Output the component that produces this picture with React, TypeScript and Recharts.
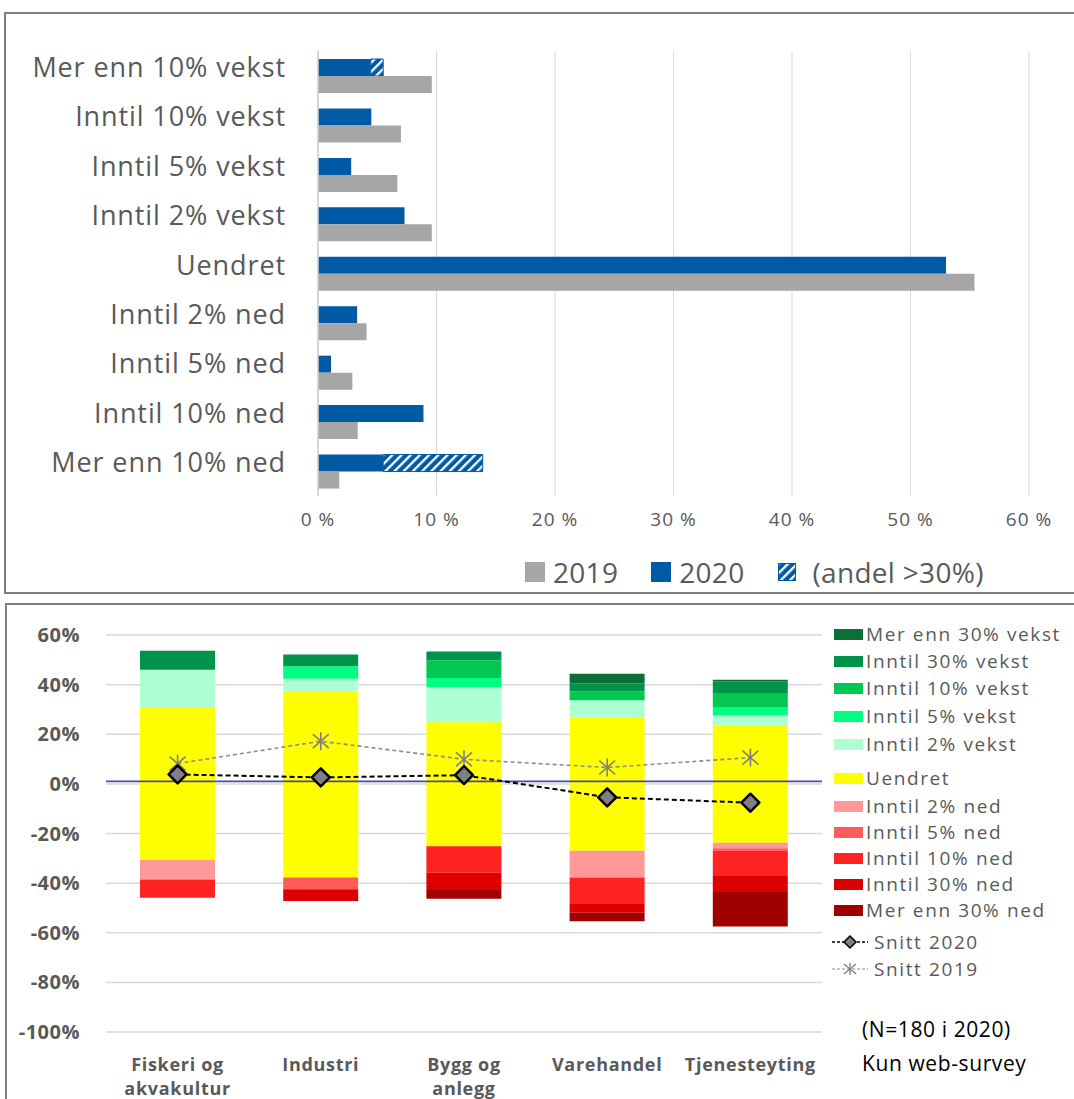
import React from 'react';
import { BarChart, Bar, XAxis, YAxis, CartesianGrid, ComposedChart, Line, ReferenceLine } from 'recharts';

const FONT = '"Open Sans", sans-serif';
const TEXT_GREY = '#595959';

// top panel: share of firms by expected change
const shiftCategories = [
  'Mer enn 10% vekst',
  'Inntil 10% vekst',
  'Inntil 5% vekst',
  'Inntil 2% vekst',
  'Uendret',
  'Inntil 2% ned',
  'Inntil 5% ned',
  'Inntil 10% ned',
  'Mer enn 10% ned',
];
const share2019 = [9.6, 7.0, 6.7, 9.6, 55.4, 4.1, 2.9, 3.35, 1.8];
const share2020 = [4.45, 4.5, 2.8, 7.3, 53.0, 3.3, 1.1, 8.9, 5.5];
const share2020Over30 = [1.05, 0, 0, 0, 0, 0, 0, 0, 8.4];
const shareTicks = [0, 10, 20, 30, 40, 50, 60];

// bottom panel: distribution per sector
const sectors = ['Fiskeri og\nakvakultur', 'Industri', 'Bygg og\nanlegg', 'Varehandel', 'Tjenesteyting'];
const uendretOver = [30.6, 37.2, 24.8, 26.6, 23.5];
const uendretUnder = [-30.7, -37.7, -25.1, -27.0, -23.7];
const vekst2 = [15.4, 5.2, 14.2, 7.1, 4.1];
const vekst5 = [0, 5.0, 3.7, 0, 3.4];
const vekst10 = [0, 0, 7.1, 3.6, 5.6];
const vekst30 = [7.7, 4.7, 3.6, 3.3, 4.8];
const vekstMer30 = [0, 0, 0, 3.8, 0.6];
const ned2 = [-7.8, 0, 0, -10.7, -2.2];
const ned5 = [0, -4.8, 0, 0, -1.1];
const ned10 = [-7.4, 0, -10.7, -10.7, -10.1];
const ned30 = [0, -4.7, -7.0, -3.5, -6.5];
const nedMer30 = [0, 0, -3.5, -3.5, -13.9];
const snitt2020 = [3.8, 2.6, 3.5, -5.4, -7.6];
const snitt2019 = [8.2, 17.2, 9.9, 6.6, 10.6];
const sectorTicks = [-100, -80, -60, -40, -20, 0, 20, 40, 60];

const topData = shiftCategories.map((name, i) => ({
  name,
  v2019: share2019[i],
  v2020: share2020[i],
  over30: share2020Over30[i],
}));

const sectorData = sectors.map((name, i) => ({
  name,
  uendretOver: uendretOver[i],
  uendretUnder: uendretUnder[i],
  vekst2: vekst2[i],
  vekst5: vekst5[i],
  vekst10: vekst10[i],
  vekst30: vekst30[i],
  vekstMer30: vekstMer30[i],
  ned2: ned2[i],
  ned5: ned5[i],
  ned10: ned10[i],
  ned30: ned30[i],
  nedMer30: nedMer30[i],
  snitt2020: snitt2020[i],
  snitt2019: snitt2019[i],
}));

const BLUE = '#005AA5';
const GREY = '#A6A6A6';

const sectorSeries = [
  { key: 'vekstMer30', label: 'Mer enn 30% vekst', color: '#0A7038' },
  { key: 'vekst30', label: 'Inntil 30% vekst', color: '#00934A' },
  { key: 'vekst10', label: 'Inntil 10% vekst', color: '#00C853' },
  { key: 'vekst5', label: 'Inntil 5% vekst', color: '#00FF80' },
  { key: 'vekst2', label: 'Inntil 2% vekst', color: '#AEFFD2' },
  { key: 'uendret', label: 'Uendret', color: '#FFFF00' },
  { key: 'ned2', label: 'Inntil 2% ned', color: '#FF9999' },
  { key: 'ned5', label: 'Inntil 5% ned', color: '#FF5A5A' },
  { key: 'ned10', label: 'Inntil 10% ned', color: '#FF2222' },
  { key: 'ned30', label: 'Inntil 30% ned', color: '#DD0000' },
  { key: 'nedMer30', label: 'Mer enn 30% ned', color: '#A00000' },
];
const colorOf = (key: string) => sectorSeries.find(s => s.key === key)!.color;

// stacking order (each sign stacks outward from zero in this order)
const stackOrder = [
  ['uendretOver', 'uendret'],
  ['uendretUnder', 'uendret'],
  ['vekst2', 'vekst2'],
  ['ned2', 'ned2'],
  ['vekst5', 'vekst5'],
  ['ned5', 'ned5'],
  ['vekst10', 'vekst10'],
  ['ned10', 'ned10'],
  ['vekst30', 'vekst30'],
  ['ned30', 'ned30'],
  ['vekstMer30', 'vekstMer30'],
  ['nedMer30', 'nedMer30'],
];

const legendRowsY = [634, 661, 688, 716, 744, 778, 806, 832, 858, 884, 910];

const legendRowStyle: React.CSSProperties = {
  position: 'absolute',
  height: 24,
  display: 'flex',
  alignItems: 'center',
  whiteSpace: 'nowrap',
  fontSize: 19,
  color: TEXT_GREY,
  letterSpacing: 1.6,
  lineHeight: '24px',
};

const TopCategoryTick = ({ x, y, payload }: any) => (
  <text x={x} y={y} dy={1} textAnchor="end" fill={TEXT_GREY} fontSize={27} letterSpacing={0.9} fontFamily={FONT}>
    {payload.value}
  </text>
);

const SectorTick = ({ x, y, payload }: any) => {
  const lines = String(payload.value).split('\n');
  return (
    <text x={x} y={y} textAnchor="middle" fill={TEXT_GREY} fontSize={18} fontWeight={700} letterSpacing={0.7} fontFamily={FONT}>
      {lines.map((line, i) => (
        <tspan key={i} x={x} dy={i === 0 ? '0.71em' : 24}>{line}</tspan>
      ))}
    </text>
  );
};

const Diamond = ({ cx, cy }: any) => {
  if (cx == null || cy == null) return null;
  return (
    <polygon
      points={`${cx},${cy - 9} ${cx + 9},${cy} ${cx},${cy + 9} ${cx - 9},${cy}`}
      fill="#808080"
      stroke="#000"
      strokeWidth={2.5}
      strokeLinejoin="round"
    />
  );
};

const Star = ({ cx, cy }: any) => {
  if (cx == null || cy == null) return null;
  return (
    <g stroke="#7F7F7F" strokeWidth={1.6}>
      <line x1={cx} y1={cy - 9} x2={cx} y2={cy + 9} />
      <line x1={cx - 8} y1={cy - 7} x2={cx + 8} y2={cy + 7} />
      <line x1={cx - 8} y1={cy + 7} x2={cx + 8} y2={cy - 7} />
    </g>
  );
};

export default function App() {
  return (
    <div style={{ position: 'relative', width: 1074, height: 1099, overflow: 'hidden', background: '#fff', fontFamily: FONT }}>
      <style>{'body{margin:0}'}</style>
      <svg width={0} height={0} style={{ position: 'absolute' }}>
        <defs>
          <pattern id="hatch" patternUnits="userSpaceOnUse" width={6.5} height={6.5} patternTransform="rotate(45)">
            <rect width={6.5} height={6.5} fill={BLUE} />
            <rect x={0} y={0} width={2.3} height={6.5} fill="#fff" />
          </pattern>
        </defs>
      </svg>

      {/* panel frames */}
      <div style={{ position: 'absolute', left: 4, top: 12, width: 1100, height: 578, border: '2px solid #7F7F7F' }} />
      <div style={{ position: 'absolute', left: 5, top: 603, width: 1100, height: 520, border: '2px solid #7F7F7F' }} />

      {/* top chart */}
      <div style={{ position: 'absolute', left: 0, top: 0 }}>
        <BarChart
          width={1074}
          height={600}
          data={topData}
          layout="vertical"
          margin={{ top: 51, right: 45, bottom: 0, left: 0 }}
          barGap={0}
        >
          <CartesianGrid horizontal={false} stroke="#D9D9D9" />
          <XAxis
            type="number"
            domain={[0, 60]}
            ticks={shareTicks}
            interval={0}
            tickFormatter={(v: number) => `${v} %`}
            axisLine={false}
            tickLine={false}
            tickSize={0}
            tickMargin={17}
            height={104}
            tick={{ fontSize: 19, fill: TEXT_GREY, fontFamily: FONT, letterSpacing: 1 }}
          />
          <YAxis
            type="category"
            dataKey="name"
            width={318}
            interval={0}
            axisLine={{ stroke: '#D0D0D0', strokeWidth: 1.5 }}
            tickLine={false}
            tickSize={0}
            tickMargin={32}
            tick={<TopCategoryTick />}
          />
          <Bar dataKey="v2020" stackId="a" fill={BLUE} barSize={17} isAnimationActive={false} />
          <Bar dataKey="over30" stackId="a" fill="url(#hatch)" stroke={BLUE} strokeWidth={1} barSize={17} isAnimationActive={false} />
          <Bar dataKey="v2019" stackId="b" fill={GREY} barSize={17} isAnimationActive={false} />
        </BarChart>
      </div>

      {/* top legend */}
      <div style={{ position: 'absolute', left: 525, top: 553, display: 'flex', alignItems: 'center', fontSize: 28, color: TEXT_GREY, letterSpacing: 0.3 }}>
        <div style={{ width: 20, height: 20, background: GREY, marginRight: 8 }} />
        <span style={{ marginRight: 33 }}>2019</span>
        <div style={{ width: 20, height: 20, background: BLUE, marginRight: 8 }} />
        <span style={{ marginRight: 33 }}>2020</span>
        <svg width={18} height={18} style={{ marginRight: 17 }}>
          <rect x={0.5} y={0.5} width={17} height={17} fill="url(#hatch)" stroke={BLUE} />
        </svg>
        <span>(andel &gt;30%)</span>
      </div>

      {/* bottom chart */}
      <div style={{ position: 'absolute', left: 0, top: 600 }}>
        <ComposedChart
          width={830}
          height={520}
          data={sectorData}
          stackOffset="sign"
          margin={{ top: 35, right: 8, bottom: 8, left: 0 }}
        >
          <CartesianGrid vertical={false} stroke="#D9D9D9" strokeWidth={1.5} />
          <XAxis
            dataKey="name"
            interval={0}
            axisLine={false}
            tickLine={false}
            tickSize={0}
            tickMargin={26}
            height={80}
            tick={<SectorTick />}
          />
          <YAxis
            type="number"
            domain={[-100, 60]}
            ticks={sectorTicks}
            interval={0}
            tickFormatter={(v: number) => `${v}%`}
            width={106}
            axisLine={false}
            tickLine={false}
            tickSize={0}
            tickMargin={26}
            tick={{ fontSize: 20, fontWeight: 700, fill: TEXT_GREY, fontFamily: FONT, letterSpacing: 0.5 }}
          />
          {stackOrder.map(([key, colorKey]) => (
            <Bar
              key={key}
              dataKey={key}
              stackId="s"
              fill={colorOf(colorKey)}
              barSize={75}
              isAnimationActive={false}
            />
          ))}
          <ReferenceLine y={1} stroke="#4A4A9E" strokeWidth={1.6} />
          <Line
            dataKey="snitt2019"
            stroke="#8C8C8C"
            strokeWidth={1.6}
            strokeDasharray="4 3"
            dot={(p: any) => <Star key={`s${p.index}`} {...p} />}
            activeDot={false}
            isAnimationActive={false}
          />
          <Line
            dataKey="snitt2020"
            stroke="#000"
            strokeWidth={2}
            strokeDasharray="5 3"
            dot={(p: any) => <Diamond key={`d${p.index}`} {...p} />}
            activeDot={false}
            isAnimationActive={false}
          />
        </ComposedChart>
      </div>

      {/* bottom legend */}
      {sectorSeries.map((s, i) => (
        <div key={s.key} style={{ ...legendRowStyle, left: 834, top: legendRowsY[i] - 12 }}>
          <div style={{ width: 29, height: 11, background: s.color, marginRight: 3 }} />
          <span>{s.label}</span>
        </div>
      ))}
      <div style={{ ...legendRowStyle, left: 832, top: 930 }}>
        <svg width={36} height={20} style={{ marginRight: 6 }}>
          <line x1={0} y1={10} x2={36} y2={10} stroke="#000" strokeWidth={1.5} strokeDasharray="3 2" />
          <polygon points="18,4 24,10 18,16 12,10" fill="#808080" stroke="#000" strokeWidth={1.5} />
        </svg>
        <span>Snitt 2020</span>
      </div>
      <div style={{ ...legendRowStyle, left: 832, top: 957 }}>
        <svg width={36} height={20} style={{ marginRight: 6 }}>
          <line x1={0} y1={10} x2={36} y2={10} stroke="#8C8C8C" strokeWidth={1.2} strokeDasharray="3 2" />
          <g stroke="#7F7F7F" strokeWidth={1.3}>
            <line x1={18} y1={4} x2={18} y2={16} />
            <line x1={12} y1={5} x2={24} y2={15} />
            <line x1={12} y1={15} x2={24} y2={5} />
          </g>
        </svg>
        <span>Snitt 2019</span>
      </div>

      {/* note */}
      <div style={{ position: 'absolute', left: 862, top: 1012, fontSize: 21, color: '#000', letterSpacing: 0.6, lineHeight: '34px' }}>
        <div>(N=180 i 2020)</div>
        <div>Kun web-survey</div>
      </div>
    </div>
  );
}
